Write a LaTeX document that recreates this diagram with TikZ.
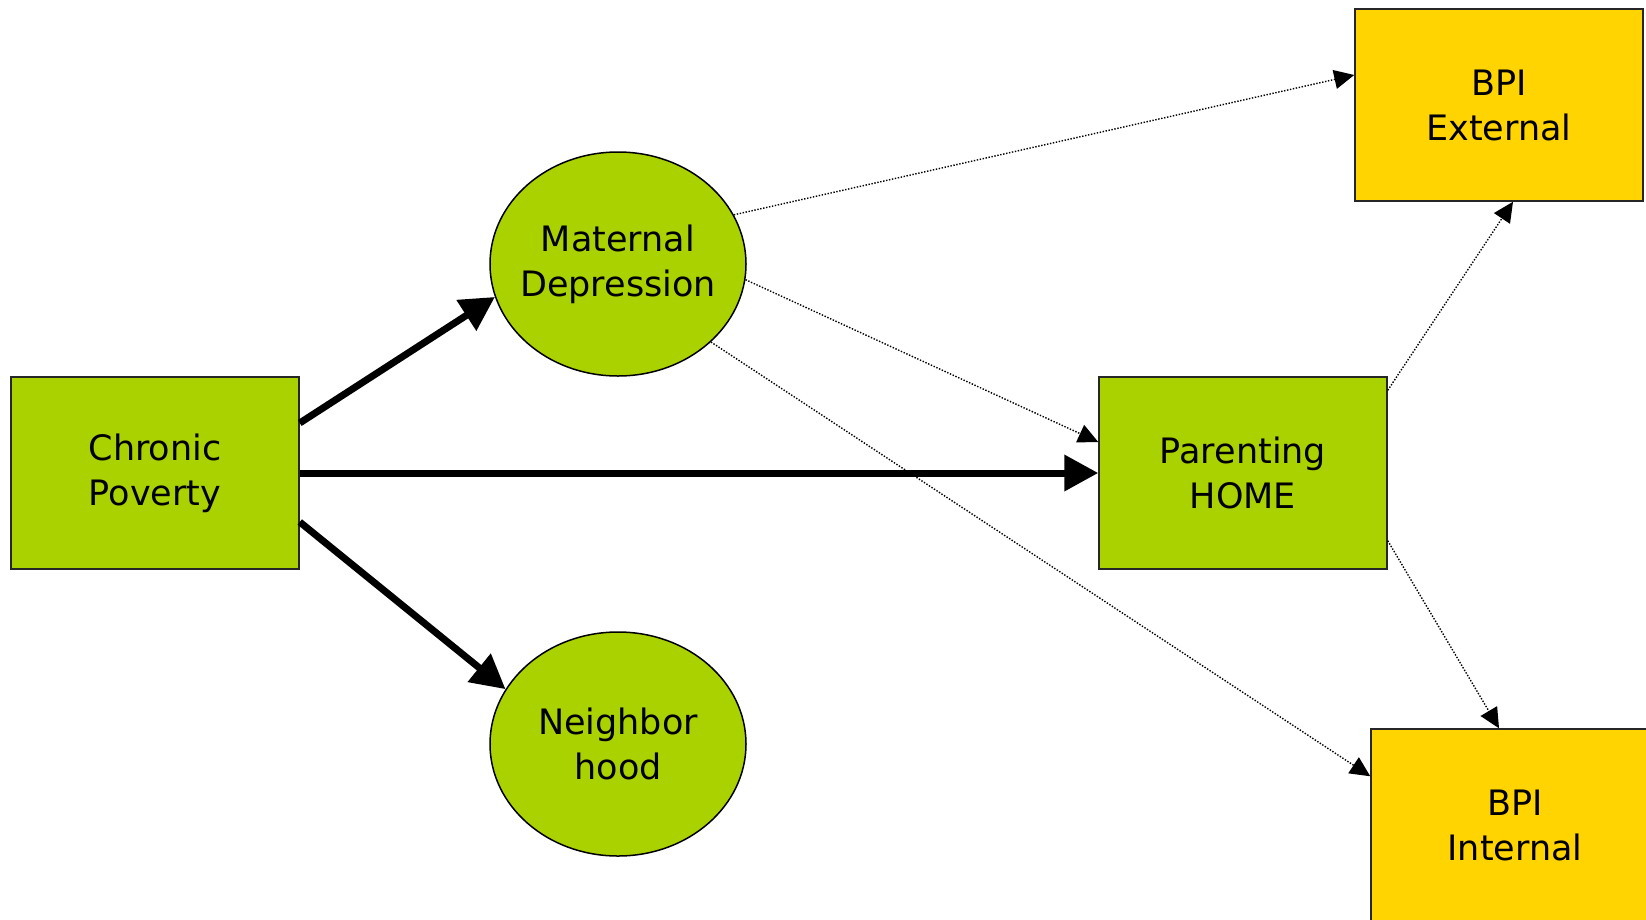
\documentclass[tikz,border=0pt]{standalone}
\usepackage{fontspec}
\setmainfont{DejaVu Sans}
\usetikzlibrary{shapes.geometric,arrows.meta,calc}
\definecolor{boxgreen}{RGB}{170,210,0}
\definecolor{boxyellow}{RGB}{255,212,0}
\begin{document}
\begin{tikzpicture}[x=1pt,y=-1pt,
  every node/.style={font=\fontsize{35}{45}\selectfont, align=center, text=black},
  gbox/.style={draw=black!85, line width=1.5pt, fill=boxgreen, minimum width=288pt, minimum height=192pt, inner sep=0pt},
  ybox/.style={draw=black!85, line width=1.5pt, fill=boxyellow, minimum width=288pt, minimum height=192pt, inner sep=0pt},
  gell/.style={ellipse, draw=black, line width=1.5pt, fill=boxgreen, minimum width=256pt, minimum height=224pt, inner sep=0pt},
  thick arrow/.style={line width=7pt, -{Triangle[length=34pt,width=35pt]}},
  dot arrow/.style={line width=1.4pt, dash pattern=on 1.4pt off 1.6pt, -{Triangle[length=20pt,width=19pt]}}
]
\useasboundingbox (0,0) rectangle (1646,919);
\node[gbox] (CP) at (155,473) {Chronic\\Poverty};
\node[gell, label={center:Maternal\\Depression}] (MD) at (618,264) {};
\node[gell, label={center:Neighbor\\hood}] (NB) at (618,744) {};
\node[gbox] (PH) at (1243,473) {Parenting\\HOME};
\node[ybox] (BE) at (1499,105) {BPI\\External};
\node[ybox] (BI) at (1515,825) {BPI\\Internal};

\draw[thick arrow] ($(CP.east)+(0,-50)$) -- (MD.195);
\draw[thick arrow] (CP.east) -- (PH.west);
\draw[thick arrow] ($(CP.east)+(0,49)$) -- (NB.154);

\draw[dot arrow] (MD.23) -- ($(BE.west)+(0,-30)$);
\draw[dot arrow] (MD.-7) -- ($(PH.west)+(0,-31)$);
\draw[dot arrow] (MD.-40) -- ($(BI.north west)+(0,48)$);
\draw[dot arrow] ($(PH.north east)+(0,14)$) -- ($(BE.south)+(14,0)$);
\draw[dot arrow] ($(PH.south east)+(0,-29)$) -- ($(BI.north)+(-16,0)$);
\end{tikzpicture}
\end{document}
